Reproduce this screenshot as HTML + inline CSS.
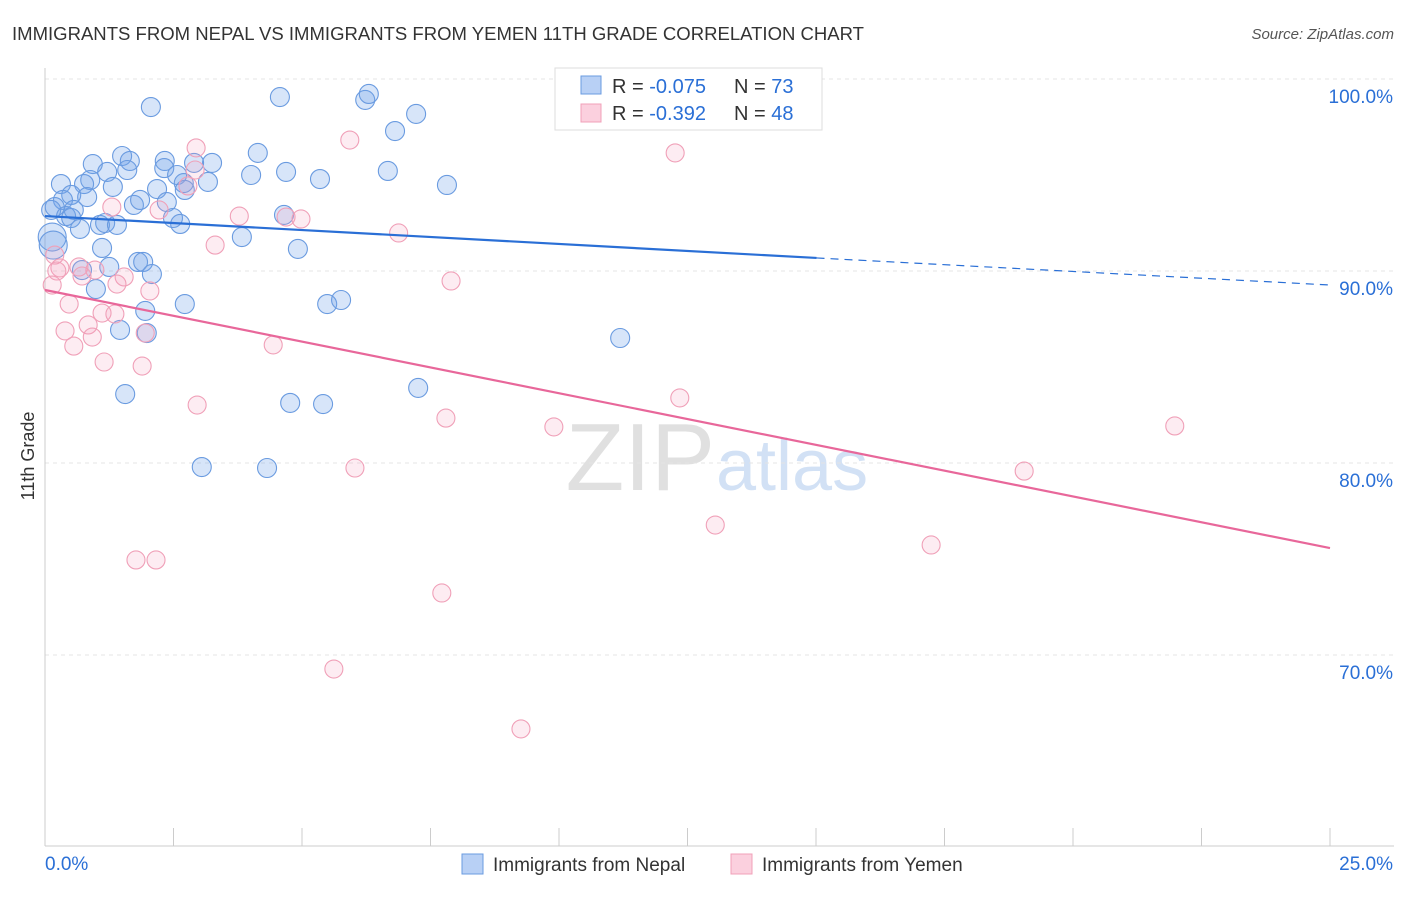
<!DOCTYPE html>
<html><head><meta charset="utf-8"><style>
body{margin:0;background:#fff;font-family:"Liberation Sans",sans-serif;}
svg text{font-family:"Liberation Sans",sans-serif;}
</style></head><body>
<svg id="chart" width="1406" height="892" viewBox="0 0 1406 892">
<text x="12" y="40" font-size="18" fill="#333" textLength="852" lengthAdjust="spacingAndGlyphs">IMMIGRANTS FROM NEPAL VS IMMIGRANTS FROM YEMEN 11TH GRADE CORRELATION CHART</text>
<text x="1394" y="39" font-size="15" fill="#555" font-style="italic" text-anchor="end">Source: ZipAtlas.com</text>
<text x="715" y="490" font-size="96" fill="#e0e0e0" text-anchor="end" font-family="Liberation Serif">ZIP</text>
<text x="716" y="490" font-size="72" fill="#d2e1f5">atlas</text>
<g id="grid"></g>
<g id="axes"></g>
<g id="pts"></g>
<g id="lines"></g>
<text x="34" y="456" font-size="18" fill="#333" transform="rotate(-90 34 456)" text-anchor="middle">11th Grade</text>
<g>
<rect x="555" y="68" width="267" height="62" fill="#fff" stroke="#ddd"/>
<rect x="581" y="76" width="20" height="18" fill="#b8d0f5" stroke="#6a9be0"/>
<rect x="581" y="104" width="20" height="18" fill="#fbd0de" stroke="#f0a0b8"/>
<text x="612" y="93" font-size="20" fill="#333">R = <tspan fill="#2a6fd6">-0.075</tspan><tspan x="734">N = </tspan><tspan fill="#2a6fd6">73</tspan></text>
<text x="612" y="120" font-size="20" fill="#333">R = <tspan fill="#2a6fd6">-0.392</tspan><tspan x="734">N = </tspan><tspan fill="#2a6fd6">48</tspan></text>
</g>
<g>
<rect x="462" y="854" width="21" height="20" fill="#b8d0f5" stroke="#6a9be0"/>
<text x="493" y="871" font-size="19" fill="#333">Immigrants from Nepal</text>
<rect x="731" y="854" width="21" height="20" fill="#fbd0de" stroke="#f0a0b8"/>
<text x="762" y="871" font-size="19" fill="#333">Immigrants from Yemen</text>
</g>
</svg>
<script>
const yTicks=[100,90,80,70];
const xTickLabels=["0.0%","25.0%"];
const nepalX=[2.06,4.57,6.23,6.30,7.22,6.81,1.50,1.65,0.93,2.33,3.25,2.90,4.14,1.21,1.60,2.32,0.88,0.31,0.76,1.32,2.57,2.70,3.17,4.01,4.69,5.35,6.67,7.82,2.18,2.72,0.51,0.82,0.35,0.19,0.12,0.56,0.41,0.51,1.73,1.85,2.37,2.49,2.63,1.07,1.17,1.40,0.68,4.65,3.83,4.92,0.14,0.16,1.11,0.72,1.25,1.81,1.91,2.08,0.99,2.72,5.49,5.76,1.95,1.46,1.98,11.19,1.56,4.77,5.41,7.26,3.05,4.32];
const nepalY=[98.54,99.06,98.91,99.22,98.18,97.29,95.99,95.73,95.57,95.73,95.63,95.63,96.15,95.16,95.26,95.36,94.74,94.53,94.53,94.38,95.0,94.58,94.64,95.0,95.16,94.79,95.21,94.48,94.27,94.22,93.96,93.85,93.70,93.33,93.18,93.18,92.86,92.76,93.44,93.70,93.59,92.76,92.45,92.40,92.50,92.40,92.19,92.92,91.77,91.15,91.77,91.35,91.20,90.05,90.21,90.47,90.47,89.84,89.06,88.28,88.28,88.49,87.92,86.93,86.77,86.51,83.59,83.13,83.07,83.91,79.79,79.74];
const yemenX=[2.94,5.93,12.26,2.78,2.92,2.22,1.30,3.78,4.69,4.98,6.88,3.31,0.19,0.29,0.66,0.23,0.97,0.72,1.54,0.14,1.40,2.04,7.90,0.47,1.11,1.36,0.84,0.39,0.92,1.95,0.56,4.44,1.15,1.89,2.96,7.80,9.90,12.35,21.98,6.03,19.05,13.04,17.24,1.77,2.16,7.72,5.62,9.26];
const yemenY=[96.41,96.82,96.15,94.43,95.26,93.18,93.33,92.86,92.81,92.71,91.98,91.35,90.83,90.16,90.21,90.0,90.05,89.74,89.69,89.27,89.32,88.96,89.48,88.28,87.81,87.76,87.19,86.88,86.56,86.77,86.09,86.15,85.26,85.05,83.02,82.34,81.88,83.39,81.93,79.74,79.58,76.77,75.73,74.95,74.95,73.23,69.27,66.15];
const nepalTrend=[92.86,90.68,89.27]; const nepalTrendX=[0,15.01,25];
const yemenTrend=[89.01,75.57]; const yemenTrendX=[0,25];
const NS="http://www.w3.org/2000/svg";
const sx=v=>45+v*51.4, sy=v=>79+(100-v)*19.2;
function mk(t,a,p){const e=document.createElementNS(NS,t);for(const k in a)e.setAttribute(k,a[k]);p.appendChild(e);return e;}
const grid=document.getElementById('grid'),axes=document.getElementById('axes'),pts=document.getElementById('pts'),lines=document.getElementById('lines');
yTicks.forEach(t=>{const l=mk('line',{x1:45,x2:1394,y1:sy(t),y2:sy(t),stroke:'#e4e4e4','stroke-dasharray':'4 4'},grid);


const tx=mk('text',{x:1393,y:sy(t)+24,'font-size':19,fill:'#2a6fd6','text-anchor':'end'},axes);tx.textContent=t.toFixed(1)+'%';

});
const ax=mk('line',{x1:45,x2:1394,y1:846,y2:846,stroke:'#ccc'},axes);


const ay=mk('line',{x1:45,x2:45,y1:68,y2:846,stroke:'#ccc'},axes);


for(let i=0;i<=10;i++){const t=mk('line',{x1:sx(i*2.5),x2:sx(i*2.5),y1:828,y2:846,stroke:'#ccc'},axes);

}
const xl0=mk('text',{x:45,y:870,'font-size':19,fill:'#2a6fd6'},axes);xl0.textContent=xTickLabels[0];


const xl1=mk('text',{x:1393,y:870,'font-size':19,fill:'#2a6fd6','text-anchor':'end'},axes);xl1.textContent=xTickLabels[1];


nepalX.forEach((x,i)=>{const c=mk('circle',{cx:sx(x),cy:sy(nepalY[i]),r:(x<0.2&&nepalY[i]>91&&nepalY[i]<92)?14:9.5,fill:'rgba(110,160,235,0.28)',stroke:'#6a9be0','stroke-width':1.1},pts);

});
yemenX.forEach((x,i)=>{const c=mk('circle',{cx:sx(x),cy:sy(yemenY[i]),r:9,fill:'rgba(245,160,190,0.2)',stroke:'#f0a0b8','stroke-width':1.1},pts);

});
const b1=mk('line',{x1:sx(nepalTrendX[0]),y1:sy(nepalTrend[0]),x2:sx(nepalTrendX[1]),y2:sy(nepalTrend[1]),stroke:'#2a6fd6','stroke-width':2.2},lines);


const b2=mk('line',{x1:sx(nepalTrendX[1]),y1:sy(nepalTrend[1]),x2:sx(nepalTrendX[2]),y2:sy(nepalTrend[2]),stroke:'#2a6fd6','stroke-width':1.2,'stroke-dasharray':'8 6'},lines);


const p1=mk('line',{x1:sx(yemenTrendX[0]),y1:sy(yemenTrend[0]),x2:sx(yemenTrendX[1]),y2:sy(yemenTrend[1]),stroke:'#e8679a','stroke-width':2.2},lines);


</script>
</body></html>
